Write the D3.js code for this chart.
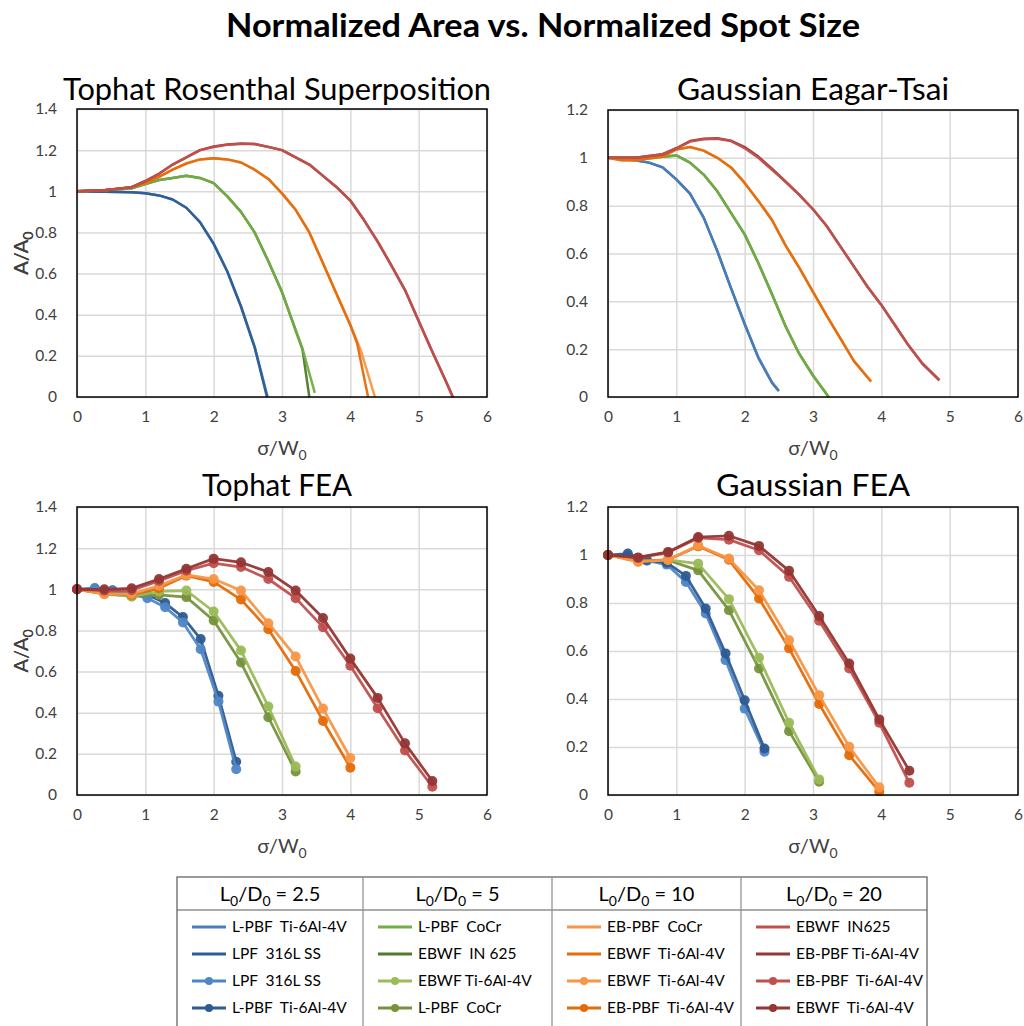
<!DOCTYPE html>
<html><head><meta charset="utf-8">
<script src="https://cdn.jsdelivr.net/npm/d3@7"></script>
<style>body{margin:0;background:#fff} text{font-family:Lato,"Open Sans",sans-serif}</style>
</head><body><svg id="c" width="1024" height="1026"></svg>
<script>
// ---------- DATA ----------
const xTicks = [0, 1, 2, 3, 4, 5, 6];
const yTicksTophat = [0, 0.2, 0.4, 0.6, 0.8, 1.0, 1.2, 1.4];
const yTicksGauss = [0, 0.2, 0.4, 0.6, 0.8, 1.0, 1.2];
const legendHeaders = ["2.5", "5", "10", "20"];
const legendLabels = [
  ["L-PBF  Ti-6Al-4V", "LPF  316L SS", "LPF  316L SS", "L-PBF  Ti-6Al-4V"],
  ["L-PBF  CoCr", "EBWF  IN 625", "EBWF Ti-6Al-4V", "L-PBF  CoCr"],
  ["EB-PBF  CoCr", "EBWF  Ti-6Al-4V", "EBWF  Ti-6Al-4V", "EB-PBF  Ti-6Al-4V"],
  ["EBWF  IN625", "EB-PBF Ti-6Al-4V", "EB-PBF  Ti-6Al-4V", "EBWF  Ti-6Al-4V"]
];

// Tophat Rosenthal Superposition (lines)
const trsBlueLight = [[0,1],[0.4,0.998],[0.8,0.995],[1.0,0.99],[1.2,0.98],[1.4,0.96],[1.6,0.92],[1.8,0.85],[2.0,0.745],[2.2,0.61],[2.4,0.44],[2.6,0.245],[2.79,0]];
const trsBlueDark  = [[0,1],[0.4,0.998],[0.8,0.995],[1.0,0.99],[1.2,0.98],[1.4,0.96],[1.6,0.92],[1.8,0.85],[2.0,0.745],[2.2,0.61],[2.4,0.44],[2.6,0.24],[2.78,0]];
const trsGreenLight = [[0,1],[0.4,1.005],[0.8,1.015],[1.0,1.035],[1.2,1.055],[1.4,1.065],[1.6,1.075],[1.8,1.065],[2.0,1.04],[2.2,0.975],[2.4,0.9],[2.6,0.8],[2.8,0.66],[3.0,0.51],[3.3,0.235],[3.48,0.02]];
const trsGreenDark  = [[0,1],[0.4,1.005],[0.8,1.015],[1.0,1.035],[1.2,1.055],[1.4,1.065],[1.6,1.075],[1.8,1.065],[2.0,1.04],[2.2,0.975],[2.4,0.9],[2.6,0.8],[2.8,0.66],[3.0,0.51],[3.3,0.23],[3.4,0]];
const trsOrangeLight = [[0,1],[0.4,1.005],[0.8,1.02],[1.0,1.04],[1.2,1.07],[1.4,1.105],[1.6,1.135],[1.8,1.155],[2.0,1.16],[2.2,1.155],[2.4,1.14],[2.6,1.105],[2.8,1.06],[3.0,0.99],[3.2,0.91],[3.4,0.8],[3.6,0.65],[3.8,0.5],[4.0,0.35],[4.15,0.23],[4.36,0]];
const trsOrangeDark  = [[0,1],[0.4,1.005],[0.8,1.02],[1.0,1.04],[1.2,1.07],[1.4,1.105],[1.6,1.135],[1.8,1.155],[2.0,1.16],[2.2,1.155],[2.4,1.14],[2.6,1.105],[2.8,1.06],[3.0,0.99],[3.2,0.91],[3.4,0.8],[3.6,0.65],[3.8,0.5],[4.0,0.35],[4.1,0.26],[4.26,0]];
const trsRedLight = [[0,1],[0.4,1.005],[0.8,1.02],[1.0,1.05],[1.2,1.085],[1.4,1.13],[1.6,1.165],[1.8,1.2],[2.0,1.215],[2.2,1.226],[2.4,1.23],[2.6,1.23],[2.8,1.215],[3.0,1.2],[3.2,1.165],[3.4,1.13],[3.6,1.075],[3.8,1.02],[4.0,0.955],[4.2,0.86],[4.4,0.755],[4.6,0.64],[4.8,0.52],[5.0,0.37],[5.2,0.22],[5.4,0.075],[5.5,0]];
const trsRedDark  = [[0,1],[0.4,1.005],[0.8,1.02],[1.0,1.05],[1.2,1.085],[1.4,1.13],[1.6,1.165],[1.8,1.2],[2.0,1.218],[2.2,1.228],[2.4,1.232],[2.6,1.23],[2.8,1.216],[3.0,1.2],[3.2,1.165],[3.4,1.13],[3.6,1.075],[3.8,1.02],[4.0,0.955],[4.2,0.86],[4.4,0.755],[4.6,0.64],[4.8,0.52],[5.0,0.37],[5.2,0.22],[5.4,0.075],[5.5,0]];

// Gaussian Eagar-Tsai (lines)
const getBlueLight = [[0,1],[0.2,0.995],[0.4,0.99],[0.6,0.98],[0.8,0.96],[1.0,0.91],[1.2,0.85],[1.4,0.75],[1.6,0.61],[1.8,0.455],[2.0,0.305],[2.2,0.165],[2.4,0.06],[2.5,0.025]];
const getBlueDark  = [[0,1],[0.2,0.995],[0.4,0.99],[0.6,0.98],[0.8,0.96],[1.0,0.91],[1.2,0.85],[1.4,0.75],[1.6,0.61],[1.8,0.455],[2.0,0.305],[2.2,0.165],[2.4,0.06],[2.5,0.025]];
const getGreenLight = [[0,1],[0.4,1.0],[0.8,1.005],[1.0,1.01],[1.2,0.98],[1.4,0.93],[1.6,0.86],[1.8,0.77],[2.0,0.68],[2.2,0.56],[2.4,0.43],[2.6,0.295],[2.8,0.18],[3.0,0.09],[3.23,0]];
const getGreenDark  = [[0,1],[0.4,1.0],[0.8,1.005],[1.0,1.01],[1.2,0.98],[1.4,0.93],[1.6,0.86],[1.8,0.77],[2.0,0.68],[2.2,0.56],[2.4,0.43],[2.6,0.295],[2.8,0.18],[3.0,0.09],[3.23,0]];
const getOrangeLight = [[0,1],[0.2,0.99],[0.4,0.99],[0.8,1.005],[1.0,1.035],[1.2,1.045],[1.4,1.03],[1.6,1.0],[1.8,0.96],[2.0,0.895],[2.2,0.82],[2.4,0.74],[2.6,0.633],[2.8,0.54],[3.0,0.44],[3.2,0.34],[3.4,0.245],[3.6,0.15],[3.85,0.065]];
const getOrangeDark  = [[0,1],[0.2,0.99],[0.4,0.99],[0.8,1.005],[1.0,1.035],[1.2,1.045],[1.4,1.03],[1.6,1.0],[1.8,0.96],[2.0,0.895],[2.2,0.82],[2.4,0.74],[2.6,0.633],[2.8,0.54],[3.0,0.44],[3.2,0.34],[3.4,0.245],[3.6,0.15],[3.85,0.065]];
const getRedLight = [[0,1],[0.4,1.0],[0.8,1.015],[1.0,1.04],[1.2,1.068],[1.4,1.078],[1.6,1.08],[1.8,1.07],[2.0,1.04],[2.2,1.0],[2.4,0.95],[2.6,0.9],[2.8,0.845],[3.0,0.785],[3.2,0.715],[3.4,0.63],[3.6,0.545],[3.8,0.46],[4.0,0.385],[4.2,0.3],[4.4,0.215],[4.6,0.14],[4.85,0.07]];
const getRedDark  = [[0,1],[0.4,1.0],[0.8,1.015],[1.0,1.04],[1.2,1.07],[1.4,1.08],[1.6,1.082],[1.8,1.072],[2.0,1.045],[2.2,1.005],[2.4,0.955],[2.6,0.9],[2.8,0.845],[3.0,0.785],[3.2,0.715],[3.4,0.63],[3.6,0.545],[3.8,0.46],[4.0,0.385],[4.2,0.3],[4.4,0.215],[4.6,0.14],[4.85,0.07]];

// Tophat FEA (markers)
const tfBlueX = [0,0.26,0.52,0.78,1.03,1.29,1.55,1.81,2.07,2.33];
const tfBlueLight = [1.0,1.005,0.99,0.978,0.957,0.913,0.839,0.709,0.454,0.125];
const tfBlueDark  = [1.0,1.005,0.995,0.978,0.973,0.933,0.865,0.758,0.482,0.162];
const tfGreenX = [0,0.4,0.8,1.2,1.6,2.0,2.4,2.8,3.2];
const tfGreenLight = [1.0,0.978,0.965,0.99,0.994,0.892,0.702,0.43,0.138];
const tfGreenDark  = [1.0,0.98,0.965,0.973,0.962,0.848,0.644,0.378,0.114];
const tfOrangeX = [0,0.4,0.8,1.2,1.6,2.0,2.4,2.8,3.2,3.6,4.0];
const tfOrangeLight = [1.0,0.976,0.978,1.017,1.07,1.05,0.994,0.835,0.673,0.42,0.18];
const tfOrangeDark  = [1.0,0.98,0.973,1.005,1.066,1.036,0.95,0.806,0.603,0.36,0.133];
const tfRedX = [0,0.4,0.8,1.2,1.6,2.0,2.4,2.8,3.2,3.6,4.0,4.4,4.8,5.2];
const tfRedLight = [1.0,0.993,0.995,1.04,1.09,1.127,1.108,1.05,0.957,0.816,0.628,0.422,0.216,0.04];
const tfRedDark  = [1.0,1.0,1.005,1.05,1.10,1.149,1.131,1.084,0.994,0.86,0.663,0.472,0.251,0.068];

// Gaussian FEA (markers)
const gfBlueX = [0,0.29,0.57,0.86,1.14,1.43,1.72,2.0,2.29];
const gfBlueLight = [1.0,0.997,0.976,0.96,0.888,0.756,0.562,0.36,0.18];
const gfBlueDark  = [1.0,1.006,0.979,0.968,0.913,0.777,0.59,0.395,0.194];
const gfGreenX = [0,0.44,0.88,1.32,1.77,2.21,2.65,3.09];
const gfGreenLight = [1.0,0.976,0.98,0.964,0.816,0.572,0.301,0.065];
const gfGreenDark  = [1.0,0.976,0.978,0.936,0.77,0.527,0.266,0.055];
const gfOrangeX = [0,0.44,0.88,1.32,1.77,2.21,2.65,3.09,3.53,3.97];
const gfOrangeLight = [1.0,0.971,0.98,1.04,0.985,0.853,0.645,0.416,0.201,0.032];
const gfOrangeDark  = [1.0,0.975,0.98,1.036,0.98,0.819,0.611,0.379,0.166,0.014];
const gfRedX = [0,0.44,0.88,1.32,1.77,2.21,2.65,3.09,3.53,3.97,4.41];
const gfRedLight = [1.0,0.988,1.01,1.071,1.064,1.02,0.909,0.726,0.527,0.301,0.051];
const gfRedDark  = [1.0,0.99,1.013,1.075,1.08,1.038,0.934,0.746,0.548,0.315,0.101];

// ---------- STYLE ----------
const C = {
  blueL:"#4a7ebb", blueD:"#2c5d94", blueLM:"#4f86c6", blueDM:"#2e5b92",
  greenL:"#72ad45", greenD:"#4f7a28", greenLM:"#9bbb59", greenDM:"#76923c",
  orangeL:"#f79646", orangeD:"#e46c0a", orangeLM:"#f79646", orangeDM:"#e46c0a",
  redL:"#c0504d", redD:"#953735", redLM:"#c0504d", redDM:"#943634"
};
const zip = (xs, ys) => xs.map((x, i) => [x, ys[i]]);

const panels = [
  {title:"Tophat Rosenthal Superposition", l:77, r:487, t:109, b:397, yMax:1.4, yTicks:yTicksTophat, tx:277, ty:100, tw:428, series:[
    {d:trsBlueLight, c:C.blueL}, {d:trsBlueDark, c:C.blueD},
    {d:trsGreenDark, c:C.greenD}, {d:trsGreenLight, c:C.greenL},
    {d:trsOrangeLight, c:C.orangeL}, {d:trsOrangeDark, c:C.orangeD},
    {d:trsRedDark, c:C.redD}, {d:trsRedLight, c:C.redL}]},
  {title:"Gaussian Eagar-Tsai", l:608, r:1018, t:110, b:397, yMax:1.2, yTicks:yTicksGauss, tx:813, ty:100, tw:272, series:[
    {d:getBlueDark, c:C.blueD}, {d:getBlueLight, c:C.blueL},
    {d:getGreenDark, c:C.greenD}, {d:getGreenLight, c:C.greenL},
    {d:getOrangeLight, c:C.orangeL}, {d:getOrangeDark, c:C.orangeD},
    {d:getRedDark, c:C.redD}, {d:getRedLight, c:C.redL}]},
  {title:"Tophat FEA", l:77, r:487, t:507, b:795, yMax:1.4, yTicks:yTicksTophat, tx:277, ty:496, tw:150, series:[
    {d:zip(tfBlueX, tfBlueDark), c:C.blueDM, m:true}, {d:zip(tfBlueX, tfBlueLight), c:C.blueLM, m:true},
    {d:zip(tfGreenX, tfGreenDark), c:C.greenDM, m:true}, {d:zip(tfGreenX, tfGreenLight), c:C.greenLM, m:true},
    {d:zip(tfOrangeX, tfOrangeDark), c:C.orangeDM, m:true}, {d:zip(tfOrangeX, tfOrangeLight), c:C.orangeLM, m:true},
    {d:zip(tfRedX, tfRedLight), c:C.redLM, m:true}, {d:zip(tfRedX, tfRedDark), c:C.redDM, m:true}]},
  {title:"Gaussian FEA", l:608, r:1018, t:507, b:795, yMax:1.2, yTicks:yTicksGauss, tx:813, ty:496, tw:194, series:[
    {d:zip(gfBlueX, gfBlueLight), c:C.blueLM, m:true}, {d:zip(gfBlueX, gfBlueDark), c:C.blueDM, m:true},
    {d:zip(gfGreenX, gfGreenDark), c:C.greenDM, m:true}, {d:zip(gfGreenX, gfGreenLight), c:C.greenLM, m:true},
    {d:zip(gfOrangeX, gfOrangeDark), c:C.orangeDM, m:true}, {d:zip(gfOrangeX, gfOrangeLight), c:C.orangeLM, m:true},
    {d:zip(gfRedX, gfRedLight), c:C.redLM, m:true}, {d:zip(gfRedX, gfRedDark), c:C.redDM, m:true}]}
];

// ---------- DRAW ----------
const svg = d3.select("#c");
svg.append("text").attr("x", 543).attr("y", 37).attr("text-anchor", "middle")
  .attr("font-size", 33).attr("font-weight", 700).attr("fill", "#000")
  .attr("textLength", 634).attr("lengthAdjust", "spacingAndGlyphs")
  .text("Normalized Area vs. Normalized Spot Size");

const fmt = v => String(+v.toFixed(1));

panels.forEach(p => {
  const x = d3.scaleLinear().domain([0, 6]).range([p.l, p.r]);
  const y = d3.scaleLinear().domain([0, p.yMax]).range([p.b, p.t]);
  const g = svg.append("g");

  // gridlines
  g.append("g").attr("transform", `translate(0,${p.b})`)
    .call(d3.axisBottom(x).tickValues(xTicks).tickSize(-(p.b - p.t)).tickFormat(""))
    .call(a => a.select(".domain").remove())
    .call(a => a.selectAll("line").attr("stroke", "#d9d9d9").attr("stroke-width", 1.5));
  g.append("g").attr("transform", `translate(${p.l},0)`)
    .call(d3.axisLeft(y).tickValues(p.yTicks).tickSize(-(p.r - p.l)).tickFormat(""))
    .call(a => a.select(".domain").remove())
    .call(a => a.selectAll("line").attr("stroke", "#d9d9d9").attr("stroke-width", 1.5));

  // tick labels
  g.append("g").attr("transform", `translate(0,${p.b + 11})`)
    .call(d3.axisBottom(x).tickValues(xTicks).tickSize(0).tickFormat(fmt))
    .call(a => a.select(".domain").remove())
    .call(a => a.selectAll("text").attr("font-size", 15.5).attr("fill", "#404040")
      .attr("font-family", "Lato, 'Open Sans', sans-serif"));
  g.append("g").attr("transform", `translate(${p.l - 17},0)`)
    .call(d3.axisLeft(y).tickValues(p.yTicks).tickSize(0).tickFormat(fmt))
    .call(a => a.select(".domain").remove())
    .call(a => a.selectAll("text").attr("font-size", 15.5).attr("fill", "#404040")
      .attr("font-family", "Lato, 'Open Sans', sans-serif"));

  // series
  const clipId = "clip" + p.l + p.t;
  svg.append("clipPath").attr("id", clipId).append("rect")
    .attr("x", p.l - 8).attr("y", p.t).attr("width", p.r - p.l + 16).attr("height", p.b - p.t + 1);
  const line = d3.line().x(d => x(d[0])).y(d => y(d[1]));
  const sg = g.append("g").attr("clip-path", `url(#${clipId})`);
  p.series.forEach(s => {
    sg.append("path").attr("d", line(s.d)).attr("fill", "none")
      .attr("stroke", s.c).attr("stroke-width", s.m ? 2.75 : 2.5)
      .attr("stroke-linejoin", "round").attr("opacity", 0.95);
    if (s.m) {
      sg.selectAll(null).data(s.d).enter().append("circle")
        .attr("cx", d => x(d[0])).attr("cy", d => y(d[1])).attr("r", 5)
        .attr("fill", s.c).attr("opacity", 0.95);
    }
  });

  // frame
  g.append("rect").attr("x", p.l).attr("y", p.t).attr("width", p.r - p.l).attr("height", p.b - p.t)
    .attr("fill", "none").attr("stroke", "#000").attr("stroke-width", 1.5);

  // titles
  g.append("text").attr("x", p.tx).attr("y", p.ty).attr("text-anchor", "middle")
    .attr("font-size", 31).attr("fill", "#000")
    .attr("textLength", p.tw).attr("lengthAdjust", "spacingAndGlyphs").text(p.title);

  const xl = g.append("text").attr("x", (p.l + p.r) / 2).attr("y", p.b + 58)
    .attr("text-anchor", "middle").attr("font-size", 20).attr("fill", "#404040");
  xl.append("tspan").text("σ/W");
  xl.append("tspan").attr("font-size", 14).attr("dy", 5).text("0");

  const yl = g.append("text").attr("transform", `translate(28,${(p.t + p.b) / 2}) rotate(-90)`)
    .attr("text-anchor", "middle").attr("font-size", 20).attr("fill", "#404040");
  yl.append("tspan").text("A/A");
  yl.append("tspan").attr("font-size", 14).attr("dy", 5).text("0");
});

// ---------- LEGEND ----------
const lg = svg.append("g");
const colX = [177, 363, 552, 741, 927];
const lgTop = 877, lgHead = 910, lgBottom = 1030;
lg.append("rect").attr("x", colX[0]).attr("y", lgTop).attr("width", colX[4] - colX[0]).attr("height", lgBottom - lgTop)
  .attr("fill", "#fff").attr("stroke", "#595959").attr("stroke-width", 1.2);
lg.append("line").attr("x1", colX[0]).attr("x2", colX[4]).attr("y1", lgHead).attr("y2", lgHead)
  .attr("stroke", "#595959").attr("stroke-width", 1.2);
[1, 2, 3].forEach(i => lg.append("line").attr("x1", colX[i]).attr("x2", colX[i]).attr("y1", lgTop).attr("y2", lgBottom)
  .attr("stroke", "#8c8c8c").attr("stroke-width", 1.2));

const legendColors = [
  [C.blueL, C.blueD, C.blueLM, C.blueDM],
  [C.greenL, C.greenD, C.greenLM, C.greenDM],
  [C.orangeL, C.orangeD, C.orangeLM, C.orangeDM],
  [C.redL, C.redD, C.redLM, C.redDM]
];
const rowY = [927, 954, 981, 1008];
legendHeaders.forEach((h, ci) => {
  const cx = (colX[ci] + colX[ci + 1]) / 2;
  const t = lg.append("text").attr("x", cx).attr("y", 901).attr("text-anchor", "middle")
    .attr("font-size", 20).attr("fill", "#000");
  t.append("tspan").text("L");
  t.append("tspan").attr("font-size", 14).attr("dy", 5).text("0");
  t.append("tspan").attr("dy", -5).text("/D");
  t.append("tspan").attr("font-size", 14).attr("dy", 5).text("0");
  t.append("tspan").attr("dy", -5).text(" = " + h);

  legendLabels[ci].forEach((lab, ri) => {
    const x0 = colX[ci] + 15, x1 = colX[ci] + 49, yy = rowY[ri];
    const col = legendColors[ci][ri];
    lg.append("line").attr("x1", x0).attr("x2", x1).attr("y1", yy).attr("y2", yy)
      .attr("stroke", col).attr("stroke-width", 3);
    if (ri >= 2) lg.append("circle").attr("cx", (x0 + x1) / 2).attr("cy", yy).attr("r", 4).attr("fill", col);
    lg.append("text").attr("x", colX[ci] + 55).attr("y", yy + 5).attr("font-size", 15.5)
      .attr("fill", "#000").style("white-space", "pre").text(lab);
  });
});
</script></body></html>
